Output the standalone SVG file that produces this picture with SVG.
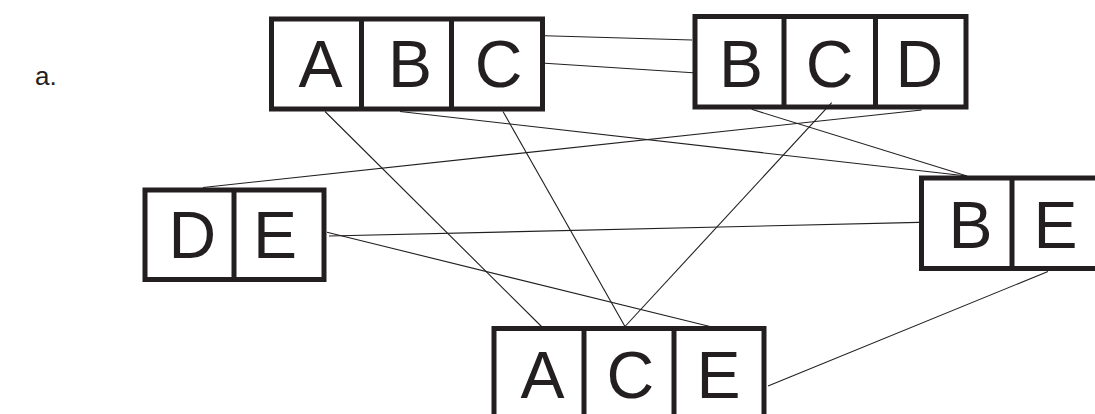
<svg xmlns="http://www.w3.org/2000/svg" width="1095" height="414" viewBox="0 0 1095 414">
  <style>
    .cell { fill: #ffffff; stroke: #231f20; stroke-width: 5; }
    .div { stroke: #231f20; stroke-width: 5; }
    .lbl { font-family: "Liberation Sans", Arial, sans-serif; font-size: 66px; fill: #231f20; text-anchor: middle; }
    .edge { stroke: #231f20; stroke-width: 1.1; fill: none; }
    .tag { font-family: "Liberation Sans", Arial, sans-serif; font-size: 26px; fill: #231f20; }
  </style>
  <rect width="1095" height="414" fill="#ffffff"/>
  <text class="tag" x="35" y="85">a.</text>

  <g id="node-abc">
    <rect class="cell" x="271.5" y="19" width="271" height="90"/>
    <line class="div" x1="361.5" y1="19" x2="361.5" y2="109"/>
    <line class="div" x1="451.5" y1="19" x2="451.5" y2="109"/>
    <text class="lbl" x="320.5" y="86.5">A</text>
    <text class="lbl" x="410" y="86.5">B</text>
    <text class="lbl" x="498.5" y="86.5">C</text>
  </g>

  <g id="node-bcd">
    <rect class="cell" x="695" y="16.5" width="271" height="90.5"/>
    <line class="div" x1="784" y1="16.5" x2="784" y2="107"/>
    <line class="div" x1="875.5" y1="16.5" x2="875.5" y2="107"/>
    <text class="lbl" x="741" y="86.5">B</text>
    <text class="lbl" x="829.5" y="86.5">C</text>
    <text class="lbl" x="919.3" y="86.5">D</text>
  </g>

  <g id="node-de">
    <rect class="cell" x="145" y="190" width="179" height="89.5"/>
    <line class="div" x1="234" y1="190" x2="234" y2="279.5"/>
    <text class="lbl" x="192.3" y="258.3">D</text>
    <text class="lbl" x="275" y="258.3">E</text>
  </g>

  <g id="node-be">
    <rect class="cell" x="921.5" y="178" width="181" height="90.5"/>
    <line class="div" x1="1012" y1="178" x2="1012" y2="268.5"/>
    <text class="lbl" x="970.5" y="247.7">B</text>
    <text class="lbl" x="1055.5" y="247.7">E</text>
  </g>

  <g id="node-ace">
    <rect class="cell" x="494" y="328.5" width="270" height="90"/>
    <line class="div" x1="584" y1="328.5" x2="584" y2="418.5"/>
    <line class="div" x1="674" y1="328.5" x2="674" y2="418.5"/>
    <text class="lbl" x="542.5" y="398">A</text>
    <text class="lbl" x="630.3" y="398">C</text>
    <text class="lbl" x="718.5" y="398">E</text>
  </g>

  <g id="connectors">
    <line class="edge" x1="545" y1="35.7" x2="692" y2="40"/>
    <line class="edge" x1="545" y1="63.3" x2="693" y2="72.7"/>
    <line class="edge" x1="325" y1="111.5" x2="541.5" y2="326.5"/>
    <line class="edge" x1="400" y1="111.5" x2="967" y2="176"/>
    <line class="edge" x1="503" y1="111.5" x2="625" y2="326.5"/>
    <line class="edge" x1="831.7" y1="102.7" x2="625" y2="326.5"/>
    <line class="edge" x1="921.7" y1="110" x2="203" y2="187.5"/>
    <line class="edge" x1="751.7" y1="109.3" x2="967" y2="176"/>
    <line class="edge" x1="329" y1="236" x2="919" y2="222.4"/>
    <line class="edge" x1="327" y1="232.3" x2="710" y2="326.5"/>
    <line class="edge" x1="1048" y1="271.5" x2="768" y2="386"/>
  </g>
</svg>
